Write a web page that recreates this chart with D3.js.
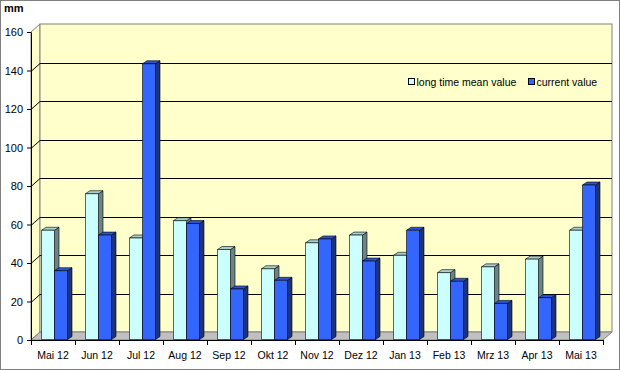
<!DOCTYPE html>
<html><head><meta charset="utf-8">
<script src="https://cdn.jsdelivr.net/npm/d3@7"></script>
<style>
html,body{margin:0;padding:0;background:#fff;}
svg{display:block;font-family:"Liberation Sans",Arial,sans-serif;}
</style></head>
<body><svg id="c" width="620" height="370"></svg>
<script>
const categories = ["Mai 12","Jun 12","Jul 12","Aug 12","Sep 12","Okt 12","Nov 12","Dez 12","Jan 13","Feb 13","Mrz 13","Apr 13","Mai 13"];
const seriesNames = ["long time mean value","current value"];
const meanValues = [57,76,53,62,47,37,50.5,54.5,44,35,38,42,57];
const currentValues = [36,54.5,143.5,60.5,26.5,31,52.5,41,57,30.5,19,22,80.5];
const yTicks = [0,20,40,60,80,100,120,140,160];
const unitLabel = "mm";

const svg = d3.select("#c");
const W = 620, H = 370;
const wdx = 9, wdy = -8;     // wall depth offset
const bdx = 4.5, bdy = -3;   // bar depth offset

const y = d3.scaleLinear().domain([0,160]).range([340,32]);
const x0 = d3.scaleBand().domain(categories).range([31,603]).paddingInner(0).paddingOuter(0);
const x1 = d3.scaleBand().domain(seriesNames).range([10.5,36.5]).padding(0);

const colors = {
  "long time mean value": {front:"#CCFFFF", top:"#A6CFCF", side:"#6B8585"},
  "current value": {front:"#3366FF", top:"#2B55D6", side:"#1C3380"}
};

// outer border
svg.append("rect").attr("x",0.5).attr("y",0.5).attr("width",W-1).attr("height",H-1)
  .attr("fill","#fff").attr("stroke","#808080");

const xl = x0.range()[0], xr = x0.range()[1];
const yb = y(0), yt = y(160);

// left wall
svg.append("path").attr("d",`M${xl},${yb}L${xl},${yt}L${xl+wdx},${yt+wdy}L${xl+wdx},${yb+wdy}Z`)
  .attr("fill","#FFFFCC").attr("stroke","#808080").attr("stroke-width",1);
// back wall
svg.append("rect").attr("x",xl+wdx).attr("y",yt+wdy).attr("width",xr-xl).attr("height",yb-yt)
  .attr("fill","#FFFFCC").attr("stroke","#808080").attr("stroke-width",1);
// floor
svg.append("path").attr("d",`M${xl},${yb}L${xl+wdx},${yb+wdy}L${xr+wdx},${yb+wdy}L${xr},${yb}Z`)
  .attr("fill","#C0C0C0").attr("stroke","#808080").attr("stroke-width",1);

// gridlines
const grid = svg.append("g");
yTicks.filter(t => t>0 && t<160).forEach(t => {
  const yy = Math.round(y(t))+0.5;
  grid.append("path").attr("d",`M${xl},${yy}L${xl+wdx},${yy+wdy}L${xr+wdx},${yy+wdy}`)
    .attr("fill","none").attr("stroke","#000").attr("stroke-width",1);
});

// bars
const data = categories.map((c,i)=>({c, vals:[{s:seriesNames[0],v:meanValues[i]},{s:seriesNames[1],v:currentValues[i]}]}));
const bw = x1.bandwidth();
const gBars = svg.append("g").attr("stroke","#000").attr("stroke-width",0.6).attr("stroke-linejoin","round");
data.forEach(d => {
  d.vals.forEach(b => {
    const bx = x0(d.c) + x1(b.s);
    const top = y(b.v), bot = y(0) - 0.5;
    const col = colors[b.s];
    gBars.append("path").attr("fill",col.side)
      .attr("d",`M${bx+bw},${bot}L${bx+bw},${top}L${bx+bw+bdx},${top+bdy}L${bx+bw+bdx},${bot+bdy}Z`);
    gBars.append("path").attr("fill",col.top)
      .attr("d",`M${bx},${top}L${bx+bdx},${top+bdy}L${bx+bw+bdx},${top+bdy}L${bx+bw},${top}Z`);
    gBars.append("rect").attr("fill",col.front).attr("x",bx).attr("y",top).attr("width",bw).attr("height",bot-top);
  });
});

// y axis
const yAxis = d3.axisLeft(y).tickValues(yTicks).tickSize(4).tickPadding(4).tickSizeOuter(0);
const gy = svg.append("g").attr("transform",`translate(${xl},0)`).call(yAxis);
gy.select(".domain").attr("stroke","#000");
gy.selectAll("text").attr("font-size","11px").attr("fill","#000").attr("font-family","'Liberation Sans',Arial,sans-serif");

// x axis line + boundary ticks
svg.append("line").attr("x1",xl).attr("x2",xr).attr("y1",yb+0.5).attr("y2",yb+0.5).attr("stroke","#000");
const bounds = categories.map(c=>x0(c)).concat([xr]);
svg.append("g").selectAll("line").data(bounds).join("line")
  .attr("x1",d=>Math.round(d)+0.5).attr("x2",d=>Math.round(d)+0.5)
  .attr("y1",yb).attr("y2",yb+5).attr("stroke","#000");
const xAxis = d3.axisBottom(x0).tickSize(0).tickPadding(12);
const gx = svg.append("g").attr("transform",`translate(0,${yb})`).call(xAxis);
gx.select(".domain").remove();
gx.selectAll("text").attr("font-size","10.5px").attr("fill","#000").attr("font-family","'Liberation Sans',Arial,sans-serif");

// unit label
svg.append("text").attr("x",4).attr("y",12).attr("font-size","11px").attr("font-weight","bold").text(unitLabel);

// legend
const legX = [408.5, 528.5];
const lg = svg.append("g");
seriesNames.forEach((s,i)=>{
  lg.append("rect").attr("x",legX[i]).attr("y",78.5).attr("width",6).attr("height",6)
    .attr("fill",colors[s].front).attr("stroke","#000").attr("stroke-width",1);
  lg.append("text").attr("x",legX[i]+8).attr("y",85.5).attr("font-size","10.5px").text(s);
});
</script></body></html>
